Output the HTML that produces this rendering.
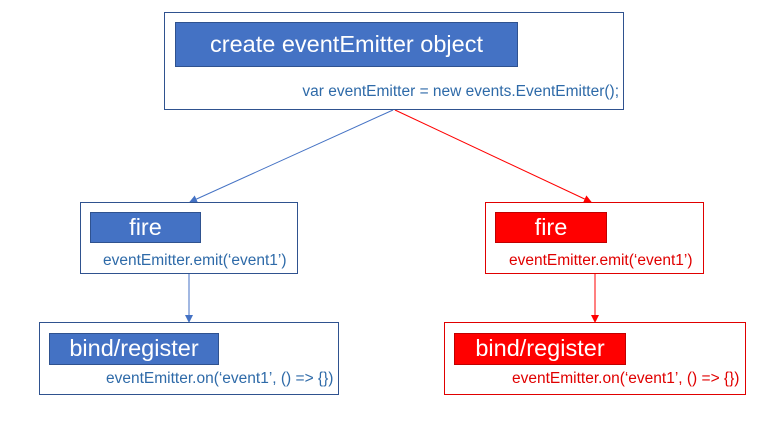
<!DOCTYPE html>
<html><head><style>
body{margin:0;width:784px;height:423px;background:#fff;position:relative;overflow:hidden;font-family:"Liberation Sans","Noto Sans CJK SC",sans-serif}
.b{position:absolute;box-sizing:border-box;border:1px solid #2f528f}
.r{border-color:#e00000}
.h{position:absolute;box-sizing:border-box;background:#4472c4;border:1px solid #2f528f;color:#fff;font-size:23.5px;text-align:center;line-height:29px}
.hr{background:#ff0000;border-color:#c00000}
.t{position:absolute;font-size:15.5px;color:#2e6aa8;white-space:nowrap}
.tr{color:#e00000}
svg{position:absolute;left:0;top:0}
</style></head><body>
<svg width="784" height="423">
<defs>
<marker id="ab" markerWidth="8" markerHeight="8" refX="7" refY="4" orient="auto" markerUnits="userSpaceOnUse"><path d="M0,0 L8,4 L0,8z" fill="#4472c4"/></marker>
<marker id="ar" markerWidth="8" markerHeight="8" refX="7" refY="4" orient="auto" markerUnits="userSpaceOnUse"><path d="M0,0 L8,4 L0,8z" fill="#ff0000"/></marker>
</defs>
<line x1="393" y1="110" x2="190" y2="202" stroke="#4472c4" stroke-width="1" marker-end="url(#ab)"/>
<line x1="395" y1="110" x2="591" y2="202" stroke="#ff0000" stroke-width="1" marker-end="url(#ar)"/>
<line x1="189" y1="273" x2="189" y2="322" stroke="#4472c4" stroke-width="1" marker-end="url(#ab)"/>
<line x1="595" y1="273" x2="595" y2="322" stroke="#ff0000" stroke-width="1" marker-end="url(#ar)"/>
</svg>
<div class="b" style="left:164px;top:12px;width:460px;height:98px"></div>
<div class="h" style="left:175px;top:22px;width:343px;height:45px;line-height:43px">create eventEmitter object</div>
<div class="t" style="right:165px;top:83px">var eventEmitter = new events.EventEmitter();</div>

<div class="b" style="left:80px;top:202px;width:218px;height:72px"></div>
<div class="h" style="left:90px;top:212px;width:111px;height:31px">fire</div>
<div class="t" style="left:103px;top:252px">eventEmitter.emit(‘event1’)</div>

<div class="b" style="left:39px;top:322px;width:300px;height:73px"></div>
<div class="h" style="left:49px;top:333px;width:170px;height:32px">bind/register</div>
<div class="t" style="left:106px;top:370px">eventEmitter.on(‘event1’, () =&gt; {})</div>

<div class="b r" style="left:485px;top:202px;width:219px;height:72px"></div>
<div class="h hr" style="left:495px;top:212px;width:112px;height:31px">fire</div>
<div class="t tr" style="left:509px;top:252px">eventEmitter.emit(‘event1’)</div>

<div class="b r" style="left:444px;top:322px;width:302px;height:73px"></div>
<div class="h hr" style="left:454px;top:333px;width:172px;height:32px">bind/register</div>
<div class="t tr" style="left:512px;top:370px">eventEmitter.on(‘event1’, () =&gt; {})</div>
</body></html>
